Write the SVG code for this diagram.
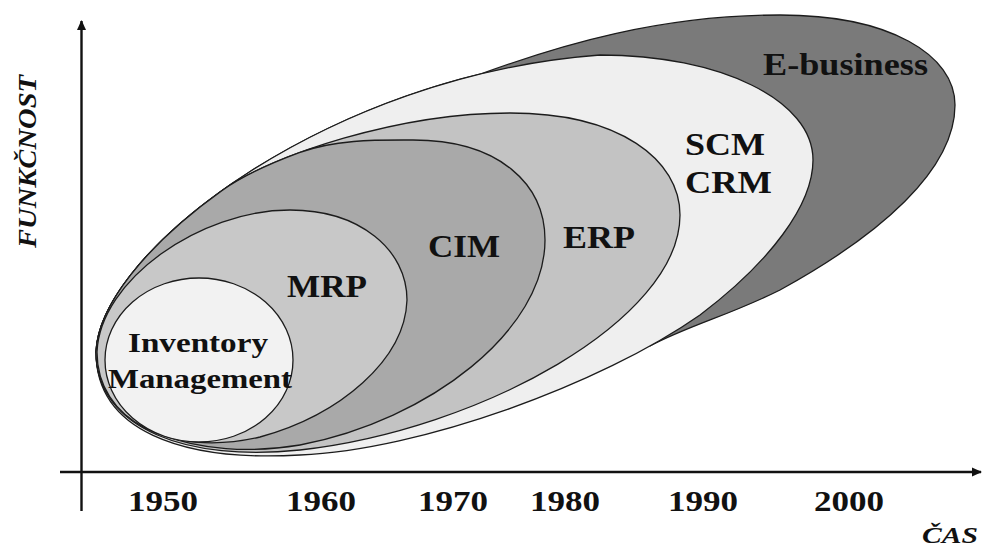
<svg xmlns="http://www.w3.org/2000/svg" width="986" height="547" viewBox="0 0 986 547">
  <defs>
    <marker id="arrow" viewBox="0 0 10 10" refX="9" refY="5" markerWidth="4.2" markerHeight="4.2" markerUnits="strokeWidth" orient="auto">
      <path d="M0,0.5 L10,5 L0,9.5 Z" fill="#111"/>
    </marker>
  </defs>
  <style>
    .blob { stroke: #1c1c1c; stroke-width: 1.3; stroke-linejoin: round; }
    .lbl { font-family: "Liberation Serif", "Times New Roman", serif; font-weight: bold; fill: #111; }
    .axis { stroke: #111; stroke-width: 2.4; fill: none; }
    .axlbl { font-family: "Liberation Serif", "Times New Roman", serif; font-weight: bold; font-style: italic; fill: #111; }
  </style>
  <rect width="986" height="547" fill="#ffffff"/>

  <g id="ebusiness">
    <path class="blob" fill="#7a7a7a" d="M96,352 C99.4,265.3 266.1,125.9 481.7,73.7 C560,45 660,15 780,15 C890,15 955,55 955,105 C955,170 880,235 780,290 C730,315 690,325 650.1,345.9 L400,300 Z"/>
    <text class="lbl" x="763" y="75" font-size="31" textLength="165" lengthAdjust="spacingAndGlyphs">E-business</text>
  </g>

  <g id="scm-crm">
    <path class="blob" fill="#efefef" d="M96,352 C100,250 330,75 600,55 C720,55 813,100 813,160 C813,205 770,262 700,315 C600,385 420,450 300,455 C180,462 96,430 96,352 Z"/>
    <text class="lbl" x="685" y="155" font-size="31" textLength="80" lengthAdjust="spacingAndGlyphs">SCM</text>
    <text class="lbl" x="685" y="193" font-size="31" textLength="87" lengthAdjust="spacingAndGlyphs">CRM</text>
  </g>

  <g id="erp">
    <path class="blob" fill="#c3c3c3" d="M96,352 C97.8,306.1 145.4,245.4 221.8,190.7 C272.7,154.3 400,113 510,113 C620,113 680,160 680,215 C680,320 480,430 300,450 C190,462 96,430 96,352 Z"/>
    <text class="lbl" x="563" y="248" font-size="31" textLength="72" lengthAdjust="spacingAndGlyphs">ERP</text>
  </g>

  <g id="cim">
    <path class="blob" fill="#a9a9a9" d="M96,352 C97.8,306.1 145.4,245.4 221.8,190.7 C239.6,178 266.8,164.6 299.3,152.6 C336.5,138.9 380,140 413,140 C500,140 545,185 545,240 C545,330 430,420 300,445 C200,462 96,430 96,352 Z"/>
    <text class="lbl" x="428" y="257" font-size="31" textLength="72" lengthAdjust="spacingAndGlyphs">CIM</text>
  </g>

  <g id="mrp">
    <path class="blob" fill="#c8c8c8" d="M97,352 C100,280 200,210 290,210 C360,210 407,250 407,300 C405,360 340,415 260,437 C170,458 97,420 97,352 Z"/>
    <text class="lbl" x="287" y="297" font-size="31" textLength="80" lengthAdjust="spacingAndGlyphs">MRP</text>
  </g>

  <g id="inventory-management">
    <ellipse class="blob" fill="#f2f2f2" cx="199" cy="360" rx="94" ry="82"/>
    <text class="lbl" x="128" y="352" font-size="27" textLength="140" lengthAdjust="spacingAndGlyphs">Inventory</text>
    <text class="lbl" x="108" y="388" font-size="27" textLength="184" lengthAdjust="spacingAndGlyphs">Management</text>
  </g>

  <g id="connectors">
    <line class="axis" x1="81.5" y1="511" x2="81.5" y2="21" marker-end="url(#arrow)"/>
    <line class="axis" x1="60" y1="472" x2="981" y2="472" marker-end="url(#arrow)"/>
  </g>

  <g id="axis-labels">
    <text class="axlbl" transform="translate(36,248) rotate(-90)" x="0" y="0" font-size="26" textLength="173" lengthAdjust="spacingAndGlyphs">FUNKČNOST</text>
    <text class="axlbl" x="922" y="543" font-size="24" textLength="56" lengthAdjust="spacingAndGlyphs">ČAS</text>
    <text class="lbl" x="128" y="511" font-size="30" textLength="70" lengthAdjust="spacingAndGlyphs">1950</text>
    <text class="lbl" x="286" y="511" font-size="30" textLength="70" lengthAdjust="spacingAndGlyphs">1960</text>
    <text class="lbl" x="418" y="511" font-size="30" textLength="70" lengthAdjust="spacingAndGlyphs">1970</text>
    <text class="lbl" x="530" y="511" font-size="30" textLength="70" lengthAdjust="spacingAndGlyphs">1980</text>
    <text class="lbl" x="668" y="511" font-size="30" textLength="70" lengthAdjust="spacingAndGlyphs">1990</text>
    <text class="lbl" x="814" y="511" font-size="30" textLength="70" lengthAdjust="spacingAndGlyphs">2000</text>
  </g>
</svg>
